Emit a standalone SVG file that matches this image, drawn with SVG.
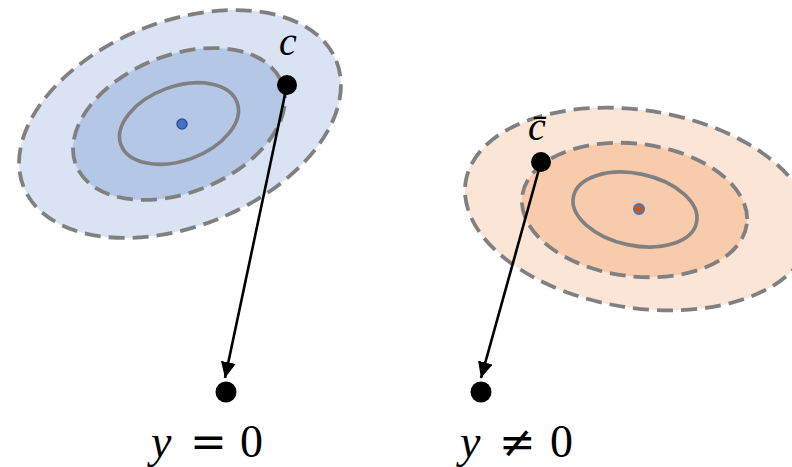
<svg xmlns="http://www.w3.org/2000/svg" width="792" height="467" viewBox="0 0 792 467">
<defs>
<style>
.dash{stroke:#808080;stroke-width:3.8;stroke-dasharray:16 8;}
.solid{stroke:#808080;stroke-width:3.6;fill:none;}
.pt{fill:#000;}
.lbl{font-family:"Liberation Serif","DejaVu Serif",serif;fill:#000;}
.op{font-family:"DejaVu Serif","Liberation Serif",serif;font-size:44px;}
.it{font-style:italic;}
.conn{stroke:#000;stroke-width:2.6;fill:none;marker-end:url(#ah);}
</style>
<marker id="ah" markerUnits="userSpaceOnUse" markerWidth="17" markerHeight="16" refX="16" refY="7.5" orient="auto">
<path d="M0,0 L16,7.5 L0,15 z" fill="#000"/>
</marker>
</defs>
<rect width="792" height="467" fill="#fff"/>
<g id="blue-dist">
<ellipse class="dash" cx="180" cy="124" rx="168.6" ry="102.3" transform="rotate(-22 180 124)" fill="#DAE3F3"/>
<ellipse class="dash" cx="179" cy="124" rx="110.9" ry="68.6" transform="rotate(-22 179 124)" fill="#B4C7E7"/>
<ellipse class="solid" cx="179" cy="123.5" rx="61.8" ry="37.1" transform="rotate(-20 179 123.5)"/>
<circle cx="182" cy="124" r="5" fill="#4472C4" stroke="#2F5597" stroke-width="1.5"/>
</g>
<g id="orange-dist">
<ellipse class="dash" cx="638" cy="209" rx="174.5" ry="98.8" transform="rotate(9 638 209)" fill="#FBE5D6"/>
<ellipse class="dash" cx="634.5" cy="210" rx="113.2" ry="66.3" transform="rotate(7 634.5 210)" fill="#F8CBAD"/>
<ellipse class="solid" cx="635" cy="209.5" rx="62.9" ry="35.9" transform="rotate(12 635 209.5)"/>
<circle cx="639" cy="209" r="5" fill="#C55A11" stroke="#4472C4" stroke-width="2"/>
</g>
<g id="connectors">
<line class="conn" x1="287" y1="85" x2="225" y2="378"/>
<line class="conn" x1="541" y1="162" x2="481" y2="378"/>
</g>
<g id="node-c">
<circle class="pt" cx="287" cy="85" r="10"/>
<text class="lbl it" x="288" y="55" font-size="40" text-anchor="middle">c</text>
</g>
<g id="node-cbar">
<circle class="pt" cx="541" cy="162" r="10"/>
<text class="lbl it" x="537" y="140" font-size="40" text-anchor="middle">c̄</text>
</g>
<g id="node-y0">
<circle class="pt" cx="226" cy="392" r="10.5"/>
<text class="lbl" y="457" font-size="46"><tspan class="it" x="151">y</tspan> <tspan class="op" x="190">=</tspan> <tspan x="240">0</tspan></text>
</g>
<g id="node-yne0">
<circle class="pt" cx="481" cy="392" r="10.5"/>
<text class="lbl" y="457" font-size="46"><tspan class="it" x="460">y</tspan> <tspan class="op" x="499">≠</tspan> <tspan x="550">0</tspan></text>
</g>
</svg>
